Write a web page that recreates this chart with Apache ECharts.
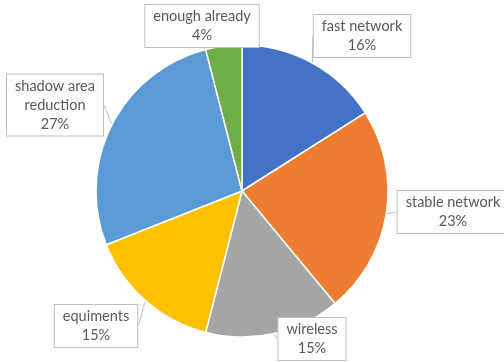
<!DOCTYPE html>
<html>
<head>
<meta charset="utf-8">
<script src="https://cdn.jsdelivr.net/npm/echarts@6/dist/echarts.min.js"></script>
<style>
  html, body { margin: 0; padding: 0; background: #fff; }
  #chart { width: 504px; height: 362px; }
</style>
</head>
<body>
<div id="chart"></div>
<script>
// Survey answers and their shares (%)
const categories = ['fast network', 'stable network', 'wireless', 'equiments', 'shadow area reduction', 'enough already'];
const shares = [16, 23, 15, 15, 27, 4];
const sliceColors = ['#4472C4', '#ED7D31', '#A5A5A5', '#FFC000', '#5B9BD5', '#70AD47'];

// Centre points of the callout boxes, one per slice
const calloutCentres = [[362, 36], [453, 212], [312, 339], [96, 326], [55, 105], [202, 26]];

function wrapName(name) {
  // break long names after the second word
  return name.length > 16 ? name.replace(/^(\S+ \S+) /, '$1\n') : name;
}

const chart = echarts.init(document.getElementById('chart'), null, { renderer: 'canvas' });
chart.setOption({
  animation: false,
  series: [{
    type: 'pie',
    center: [242, 191],
    radius: 146,
    startAngle: 90,
    clockwise: true,
    avoidLabelOverlap: false,
    data: categories.map((c, i) => ({ name: c, value: shares[i], itemStyle: { color: sliceColors[i] } })),
    itemStyle: { borderColor: '#fff', borderWidth: 1.5 },
    label: {
      show: true,
      formatter: p => wrapName(p.name) + '\n' + p.value + '%',
      fontFamily: 'Lato, "Open Sans", sans-serif',
      fontSize: 14.5,
      lineHeight: 19,
      color: '#595959',
      backgroundColor: '#fff',
      borderColor: '#bfbfbf',
      borderWidth: 1,
      padding: [2, 8, 2, 8],
      align: 'center'
    },
    labelLine: {
      show: true,
      length: 0,
      length2: 0,
      lineStyle: { color: '#bfbfbf', width: 1 }
    },
    labelLayout: function (params) {
      const c = calloutCentres[params.dataIndex];
      return { x: c[0], y: c[1], align: 'center', verticalAlign: 'middle' };
    },
    emphasis: { disabled: true }
  }]
});
</script>
</body>
</html>
